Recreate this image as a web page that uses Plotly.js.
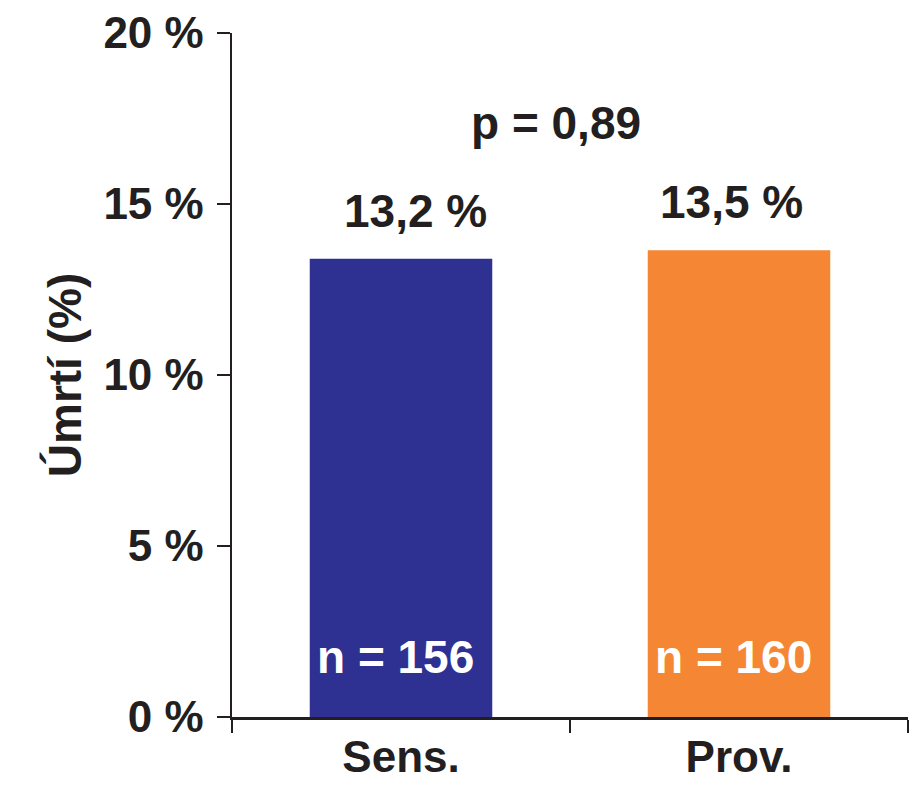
<!DOCTYPE html>
<html>
<head>
<meta charset="utf-8">
<script src="https://cdn.plot.ly/plotly-3.0.1.min.js"></script>
<style>
  html, body { margin: 0; padding: 0; background: #fff; }
  #chart { width: 917px; height: 800px; }
</style>
</head>
<body>
<div id="chart"></div>
<script>
const categories = ["Sens.", "Prov."];
const deathRate = [13.4, 13.65];
const rateLabels = ["13,2 %", "13,5 %"];
const groupSizes = ["n = 156", "n = 160"];
const barColors = ["#2e3192", "#f58634"];
const yTicks = [0, 5, 10, 15, 20];
const yTickLabels = ["0 %", "5 %", "10 %", "15 %", "20 %"];
const pValue = "p = 0,89";

const narrow = "'Liberation Sans Narrow', 'Arial Narrow', 'Liberation Sans', Arial, sans-serif";
const wide = "'Liberation Sans', Arial, Helvetica, sans-serif";

const trace = {
    type: "bar",
    x: categories,
    y: deathRate,
    marker: { color: barColors, line: { width: 0 } },
    hoverinfo: "none"
};

// percentage labels above the bars
const rateNotes = categories.map((c, i) => ({
    x: c, y: deathRate[i], xref: "x", yref: "y",
    text: "<b>" + rateLabels[i] + "</b>",
    showarrow: false, yanchor: "bottom", yshift: 20, xshift: i === 0 ? 14 : -8,
    font: { family: narrow, size: 46, color: "#231f20" }
}));

// group sizes in white near the bar bottom
const sizeNotes = categories.map((c, i) => ({
    x: c, y: 0, xref: "x", yref: "y",
    text: "<b>" + groupSizes[i] + "</b>",
    showarrow: false, yanchor: "bottom", yshift: 32, xshift: -6,
    font: { family: narrow, size: 46, color: "#ffffff" }
}));

const layout = {
    width: 917,
    height: 800,
    margin: { l: 232, r: 9, t: 33, b: 83 },
    paper_bgcolor: "#ffffff",
    plot_bgcolor: "#ffffff",
    showlegend: false,
    bargap: 0.46,
    xaxis: {
        type: "category",
        showline: true, linecolor: "#231f20", linewidth: 2.5,
        ticks: "outside", tickson: "boundaries", ticklen: 13, tickwidth: 2.5, tickcolor: "#231f20",
        showgrid: false, zeroline: false,
        tickfont: { family: wide, size: 44, color: "#231f20", weight: "bold" },
        ticklabelstandoff: 0
    },
    yaxis: {
        range: [0, 20],
        tickvals: yTicks, ticktext: yTickLabels,
        showline: true, linecolor: "#231f20", linewidth: 2.5,
        ticks: "outside", ticklen: 13, tickwidth: 2.5, tickcolor: "#231f20",
        showgrid: false, zeroline: false,
        tickfont: { family: wide, size: 44, color: "#231f20", weight: "bold" },
        ticklabelstandoff: 4,
        title: { text: "<b>Úmrtí (%)</b>", font: { family: wide, size: 46, color: "#231f20" }, standoff: 8 }
    },
    annotations: rateNotes.concat(sizeNotes, [{
        x: 0.48, y: 0.909, xref: "paper", yref: "paper",
        text: "<b>" + pValue + "</b>", showarrow: false,
        font: { family: narrow, size: 46, color: "#231f20" }
    }])
};

Plotly.newPlot("chart", [trace], layout, { displayModeBar: false, staticPlot: true });
</script>
</body>
</html>
